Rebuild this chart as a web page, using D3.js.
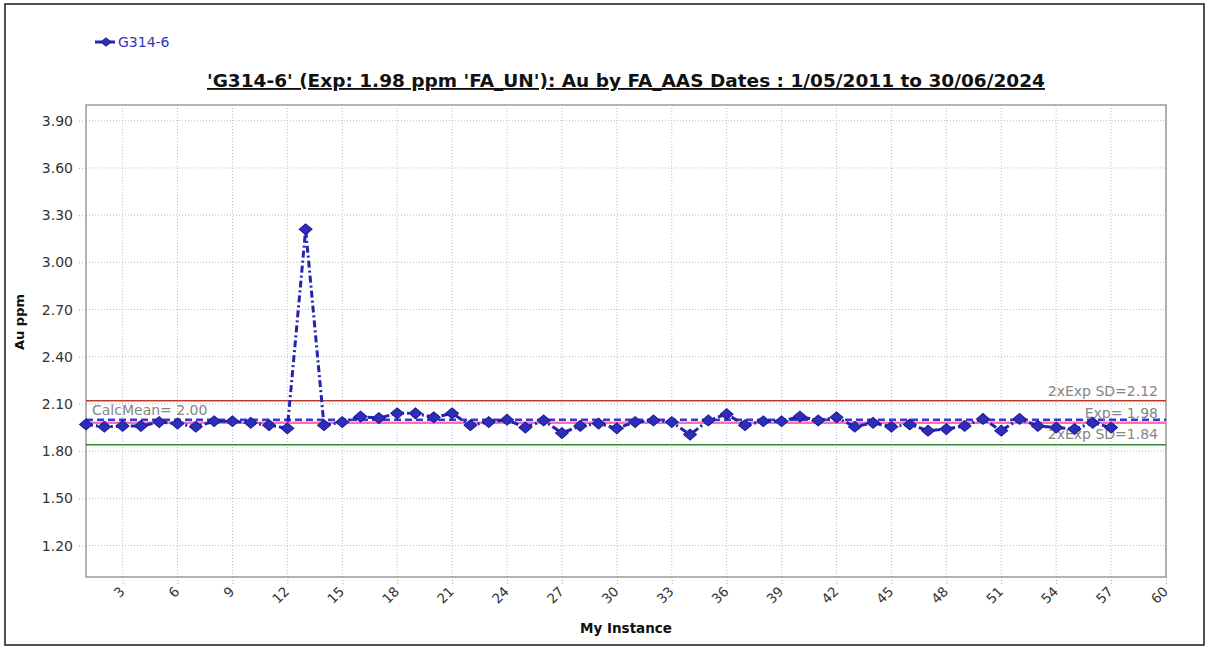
<!DOCTYPE html>
<html>
<head>
<meta charset="utf-8">
<script src="https://cdn.jsdelivr.net/npm/d3@7"></script>
<style>
  html, body { margin: 0; padding: 0; background: #fff; }
  svg { display: block; }
  text { font-family: "DejaVu Sans", Verdana, sans-serif; }
</style>
</head>
<body>
<svg id="chart" width="1208" height="648"></svg>
<script>
// Instance numbers and Au (ppm) results for standard G314-6
const instances = d3.range(1, 58);
const auValues = [
  1.97, 1.955, 1.96, 1.96, 1.985, 1.975, 1.955, 1.99, 1.99, 1.98,
  1.965, 1.945, 3.21, 1.965, 1.985, 2.02, 2.01, 2.04, 2.04, 2.015,
  2.04, 1.965, 1.985, 2.00, 1.95, 1.995, 1.915, 1.96, 1.975, 1.945,
  1.985, 1.995, 1.985, 1.905, 1.995, 2.035, 1.965, 1.99, 1.99, 2.02,
  1.995, 2.015, 1.955, 1.98, 1.955, 1.97, 1.93, 1.94, 1.96, 2.005,
  1.93, 2.005, 1.96, 1.95, 1.94, 1.98, 1.95
];

// Axis ticks
const xTicks = d3.range(3, 61, 3);
const yTicks = [1.20, 1.50, 1.80, 2.10, 2.40, 2.70, 3.00, 3.30, 3.60, 3.90];

// Control limits
const expValue = 1.98;
const calcMean = 2.00;
const upperSD = 2.12;
const lowerSD = 1.84;

const seriesName = "G314-6";
const titleText = "'G314-6' (Exp: 1.98 ppm 'FA_UN'): Au by FA_AAS Dates : 1/05/2011 to 30/06/2024";
const xTitle = "My Instance";
const yTitle = "Au ppm";

const svg = d3.select("#chart");
const plot = { left: 86, right: 1166, top: 105, bottom: 577 };

const x = d3.scaleLinear().domain([1, 60]).range([plot.left, plot.right]);
const y = d3.scaleLinear().domain([1.0, 4.0]).range([plot.bottom, plot.top]);

// Outer frame
svg.append("rect")
  .attr("x", 5).attr("y", 4).attr("width", 1199).attr("height", 641)
  .attr("fill", "#fff").attr("stroke", "#1a1a1a").attr("stroke-width", 1.5);

// Grid
const grid = svg.append("g").attr("stroke", "#bdbdbd").attr("stroke-width", 1)
  .attr("stroke-dasharray", "1,2");
grid.selectAll("line.h").data(yTicks).join("line")
  .attr("x1", plot.left).attr("x2", plot.right)
  .attr("y1", d => y(d)).attr("y2", d => y(d));
grid.selectAll("line.v").data(xTicks).join("line")
  .attr("y1", plot.top).attr("y2", plot.bottom)
  .attr("x1", d => x(d)).attr("x2", d => x(d));

// Axes
const xAxis = svg.append("g")
  .attr("transform", `translate(0,${plot.bottom})`)
  .call(d3.axisBottom(x).tickValues(xTicks).tickSize(9).tickSizeOuter(0).tickPadding(4));
xAxis.select(".domain").remove();
xAxis.selectAll(".tick line").attr("stroke", "#aaa").attr("stroke-dasharray", "1,2");
xAxis.selectAll(".tick text")
  .attr("fill", "#333").attr("font-size", 13.5)
  .attr("text-anchor", "end")
  .attr("dy", "0.35em")
  .attr("transform", "translate(-1,12) rotate(-45)")
  .attr("y", 0).attr("x", 0);

const yAxis = svg.append("g")
  .attr("transform", `translate(${plot.left},0)`)
  .call(d3.axisLeft(y).tickValues(yTicks).tickFormat(d3.format(".2f")).tickSize(9).tickSizeOuter(0).tickPadding(4));
yAxis.select(".domain").remove();
yAxis.selectAll(".tick line").attr("stroke", "#aaa").attr("stroke-dasharray", "1,2");
yAxis.selectAll(".tick text").attr("fill", "#333").attr("font-size", 14);

// Plot border
svg.append("rect")
  .attr("x", plot.left).attr("y", plot.top)
  .attr("width", plot.right - plot.left).attr("height", plot.bottom - plot.top)
  .attr("fill", "none").attr("stroke", "#9a9a9a").attr("stroke-width", 1.5);

// Control lines
const hline = (v, color, width, dash) => svg.append("line")
  .attr("x1", plot.left).attr("x2", plot.right)
  .attr("y1", y(v)).attr("y2", y(v))
  .attr("stroke", color).attr("stroke-width", width)
  .attr("stroke-dasharray", dash);
hline(upperSD, "#c0392b", 1.5, null);
hline(lowerSD, "#2e8b2e", 1.5, null);
hline(expValue, "#ff6fb0", 2.5, null);
hline(calcMean, "#3a3ad0", 2.5, "7,4");

// Control line labels
const lab = (txt, xx, yy, anchor) => svg.append("text")
  .attr("x", xx).attr("y", yy).attr("text-anchor", anchor)
  .attr("fill", "#858585").attr("font-size", 14).text(txt);
lab("2xExp SD=" + upperSD.toFixed(2), 1158, y(upperSD) - 4.5, "end");
lab("Exp= " + expValue.toFixed(2), 1158, y(expValue) - 5, "end");
lab("2xExp SD=" + lowerSD.toFixed(2), 1158, y(lowerSD) - 5.5, "end");
lab("CalcMean= " + calcMean.toFixed(2), 92, y(calcMean) - 5, "start");

// Series
const pts = instances.map((n, i) => ({ n, v: auValues[i] }));
const line = d3.line().x(d => x(d.n)).y(d => y(d.v));
svg.append("path").datum(pts)
  .attr("d", line).attr("fill", "none")
  .attr("stroke", "#2222b4").attr("stroke-width", 3)
  .attr("stroke-dasharray", "7,3,2,3");

const diamond = d3.symbol(d3.symbolSquare, 84)();
svg.append("g").selectAll("path").data(pts).join("path")
  .attr("d", diamond)
  .attr("transform", d => `translate(${x(d.n)},${y(d.v)}) scale(1,0.85) rotate(45)`)
  .attr("fill", "#2d2dbb").attr("stroke", "#1a1a8c").attr("stroke-width", 1);

// Legend
const lg = svg.append("g").attr("transform", "translate(0,42)");
lg.append("line").attr("x1", 95).attr("x2", 115).attr("y1", 0).attr("y2", 0)
  .attr("stroke", "#2222b4").attr("stroke-width", 3).attr("stroke-dasharray", "7,3,2,3");
lg.append("path").attr("d", d3.symbol(d3.symbolSquare, 50)())
  .attr("transform", "translate(106,0) scale(1,0.85) rotate(45)")
  .attr("fill", "#2d2dbb").attr("stroke", "#1a1a8c");
lg.append("text").attr("x", 118).attr("y", 0).attr("dy", "0.35em")
  .attr("fill", "#3535b5").attr("font-size", 14).text(seriesName);

// Title
const title = svg.append("text")
  .attr("x", (plot.left + plot.right) / 2).attr("y", 87)
  .attr("text-anchor", "middle").attr("font-weight", "bold")
  .attr("font-size", 15.5).attr("fill", "#111")
  .style("text-decoration", "underline")
  .text(titleText);
const tw = title.node().getComputedTextLength();
title.attr("font-size", 15.5 * 838 / tw);

// Axis titles
svg.append("text")
  .attr("x", (plot.left + plot.right) / 2).attr("y", 633)
  .attr("text-anchor", "middle").attr("font-weight", "bold")
  .attr("font-size", 13.5).attr("fill", "#111").text(xTitle);
svg.append("text")
  .attr("transform", "translate(24,322) rotate(-90)")
  .attr("text-anchor", "middle").attr("font-weight", "bold")
  .attr("font-size", 13).attr("fill", "#111").text(yTitle);
</script>
</body>
</html>
